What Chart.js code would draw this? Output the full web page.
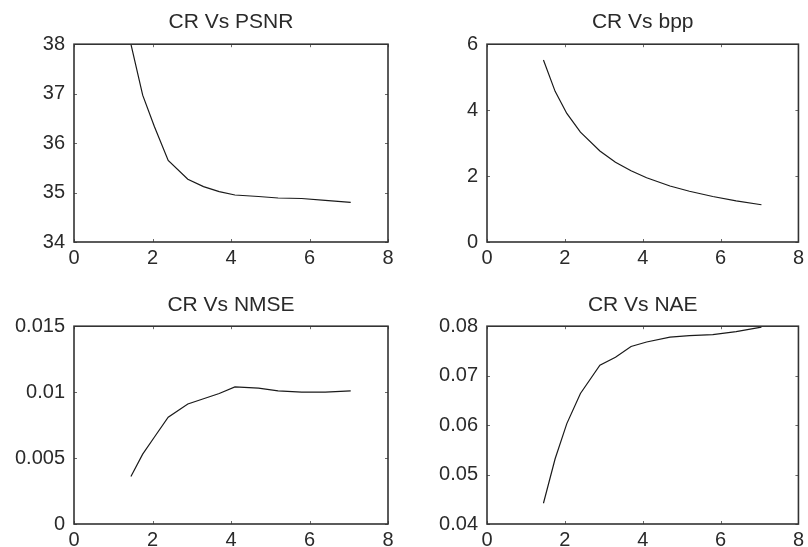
<!DOCTYPE html>
<html>
<head>
<meta charset="utf-8">
<script src="https://cdn.jsdelivr.net/npm/chart.js@4/dist/chart.umd.min.js"></script>
<style>
  html, body { margin: 0; padding: 0; background: #fff; }
  #wrap { position: relative; width: 808px; height: 547px; overflow: hidden; background: #fff; }
  .panel { position: absolute; }
  canvas { display: block; }
</style>
</head>
<body>
<div id="wrap">
  <div class="panel" style="left:0;top:0"><canvas id="c1" width="404" height="273"></canvas></div>
  <div class="panel" style="left:404px;top:0"><canvas id="c2" width="404" height="273"></canvas></div>
  <div class="panel" style="left:0;top:273px"><canvas id="c3" width="404" height="274"></canvas></div>
  <div class="panel" style="left:404px;top:273px"><canvas id="c4" width="404" height="274"></canvas></div>
</div>
<script>
// Compression ratio (shared x values)
const crValues = [1.45, 1.75, 2.05, 2.4, 2.9, 3.3, 3.7, 4.1, 4.7, 5.2, 5.8, 6.4, 7.05];

// Quality measures at each compression ratio
const psnrValues = [38.0, 36.97, 36.33, 35.65, 35.27, 35.12, 35.02, 34.95, 34.92, 34.89, 34.88, 34.84, 34.80];
const bppValues  = [5.52, 4.57, 3.90, 3.33, 2.76, 2.42, 2.16, 1.95, 1.70, 1.54, 1.38, 1.25, 1.13];
const nmseValues = [0.0036, 0.0053, 0.0066, 0.0081, 0.0091, 0.0095, 0.0099, 0.0104, 0.0103, 0.0101, 0.0100, 0.0100, 0.0101];
const naeValues  = [0.0442, 0.0532, 0.0603, 0.0664, 0.0721, 0.0737, 0.0759, 0.0768, 0.0778, 0.0781, 0.0783, 0.0789, 0.0798];

// Tick values and labels
const xTicks = [0, 2, 4, 6, 8];
const xTickLabels = ['0', '2', '4', '6', '8'];
const psnrTicks = [34, 35, 36, 37, 38];
const psnrTickLabels = ['34', '35', '36', '37', '38'];
const bppTicks = [0, 2, 4, 6];
const bppTickLabels = ['0', '2', '4', '6'];
const nmseTicks = [0, 0.005, 0.01, 0.015];
const nmseTickLabels = ['0', '0.005', '0.01', '0.015'];
const naeTicks = [0.04, 0.05, 0.06, 0.07, 0.08];
const naeTickLabels = ['0.04', '0.05', '0.06', '0.07', '0.08'];

const FONT = 'Liberation Sans, Arial, Helvetica, sans-serif';
const TEXT = '#2a2a2a';

// Draws the full box around the plot area plus small inward tick marks
const boxPlugin = {
  id: 'boxFrame',
  afterDatasetsDraw(chart) {
    const { ctx, chartArea: a, scales } = chart;
    ctx.save();
    ctx.strokeStyle = '#6a6a6a';
    ctx.lineWidth = 1;
    const len = 3;
    scales.x.ticks.forEach(t => {
      const px = Math.round(scales.x.getPixelForValue(t.value)) + 0.5;
      ctx.beginPath();
      ctx.moveTo(px, a.bottom); ctx.lineTo(px, a.bottom - len);
      ctx.moveTo(px, a.top); ctx.lineTo(px, a.top + len);
      ctx.stroke();
    });
    scales.y.ticks.forEach(t => {
      const py = Math.round(scales.y.getPixelForValue(t.value)) + 0.5;
      ctx.beginPath();
      ctx.moveTo(a.left, py); ctx.lineTo(a.left + len, py);
      ctx.moveTo(a.right, py); ctx.lineTo(a.right - len, py);
      ctx.stroke();
    });
    ctx.strokeStyle = '#333';
    ctx.lineWidth = 1.6;
    ctx.strokeRect(a.left, a.top, a.right - a.left, a.bottom - a.top);
    ctx.restore();
  }
};

function makeChart(id, cfg) {
  const yTicks = cfg.yTicks, yLabels = cfg.yLabels;
  new Chart(document.getElementById(id), {
    type: 'line',
    data: {
      datasets: [{
        data: crValues.map((x, i) => ({ x: x, y: cfg.values[i] })),
        borderColor: '#1a1a1a',
        borderWidth: 1.2,
        pointRadius: 0,
        tension: 0,
        fill: false
      }]
    },
    options: {
      responsive: false,
      animation: false,
      events: [],
      layout: { padding: { left: 0, right: cfg.padRight, top: 0, bottom: 0 } },
      plugins: {
        legend: { display: false },
        tooltip: { enabled: false },
        title: {
          display: true,
          text: cfg.title,
          fullSize: false,
          color: TEXT,
          font: { family: FONT, size: 21, weight: 'normal', lineHeight: 1.2 },
          padding: { top: cfg.titleTop, bottom: cfg.titleBottom }
        }
      },
      scales: {
        x: {
          type: 'linear',
          min: 0, max: 8,
          afterBuildTicks: s => { s.ticks = xTicks.map(v => ({ value: v })); },
          afterFit: s => { s.height = cfg.xHeight; },
          ticks: {
            color: TEXT,
            padding: 4,
            maxRotation: 0,
            autoSkip: false,
            font: { family: FONT, size: 20 },
            callback: (v, i) => xTickLabels[i]
          },
          grid: { display: false, drawTicks: false },
          border: { display: false }
        },
        y: {
          type: 'linear',
          min: yTicks[0], max: yTicks[yTicks.length - 1],
          afterBuildTicks: s => { s.ticks = yTicks.map(v => ({ value: v })); },
          afterFit: s => { s.width = cfg.yWidth; },
          ticks: {
            color: TEXT,
            padding: 9,
            autoSkip: false,
            font: { family: FONT, size: 20 },
            callback: (v, i) => yLabels[i]
          },
          grid: { display: false, drawTicks: false },
          border: { display: false }
        }
      }
    },
    plugins: [boxPlugin]
  });
}

makeChart('c1', { title: 'CR Vs PSNR', values: psnrValues, yTicks: psnrTicks, yLabels: psnrTickLabels,
  yWidth: 74, padRight: 16, xHeight: 31, titleTop: 10, titleBottom: 9 });
makeChart('c2', { title: 'CR Vs bpp', values: bppValues, yTicks: bppTicks, yLabels: bppTickLabels,
  yWidth: 83, padRight: 6, xHeight: 31, titleTop: 10, titleBottom: 9 });
makeChart('c3', { title: 'CR Vs NMSE', values: nmseValues, yTicks: nmseTicks, yLabels: nmseTickLabels,
  yWidth: 74, padRight: 16, xHeight: 23, titleTop: 20, titleBottom: 8 });
makeChart('c4', { title: 'CR Vs NAE', values: naeValues, yTicks: naeTicks, yLabels: naeTickLabels,
  yWidth: 83, padRight: 6, xHeight: 23, titleTop: 20, titleBottom: 8 });
</script>
</body>
</html>
